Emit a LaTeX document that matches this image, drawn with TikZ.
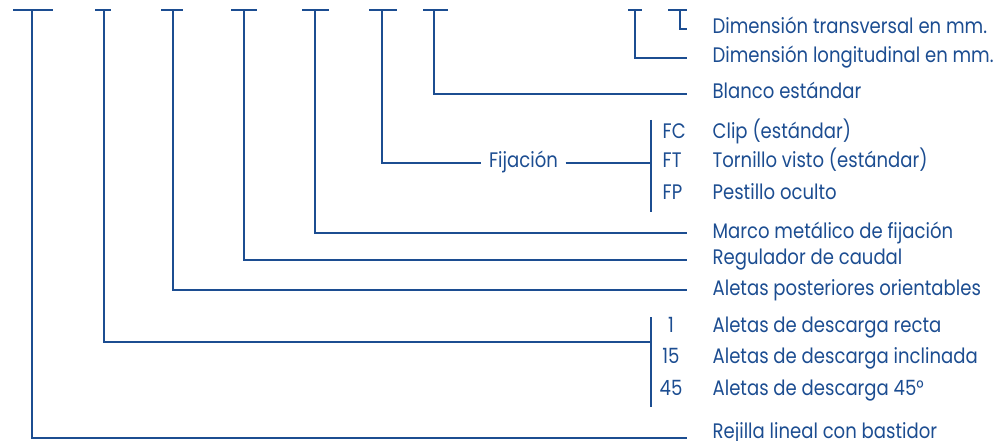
\documentclass[tikz,border=0pt]{standalone}
\usepackage{fontspec}
\setmainfont{Poppins}[FakeStretch=0.86]
\definecolor{azul}{RGB}{28,77,145}

\begin{document}
\begin{tikzpicture}[
  x=1pt, y=-1pt,
  color=azul,
  line width=1.3pt,
  font=\fontsize{21}{25}\selectfont,
  lbl/.style={anchor=west, inner sep=0pt, text height=10pt, text depth=0pt},
  num/.style={lbl, anchor=center},
  link/.style={shorten >=25pt}
]
\useasboundingbox (0,0) rectangle (997,441);

% ── Stems (top of each column) ───────────────────────────
\coordinate (st1) at (32,10);
\coordinate (st2) at (104,10);
\coordinate (st3) at (173,10);
\coordinate (st4) at (244,10);
\coordinate (st5) at (315,10);
\coordinate (st6) at (382,10);
\coordinate (st7) at (434,10);
\coordinate (st8) at (635,10);
\coordinate (st9) at (680,10);

\foreach \l/\r in {13/53, 95/111, 161/183, 231/257, 302/329,
                   369/397, 423/448, 628/642, 668/687}
  \draw (\l,10) -- (\r,10);

% ── Labels ───────────────────────────────────────────────
\node[lbl] (trans)  at (712,29)    {Dimensión transversal en mm.};
\node[lbl] (longi)  at (712,58)    {Dimensión longitudinal en mm.};
\node[lbl] (blanco) at (712,94)    {Blanco estándar};
\node[lbl] (clip)   at (712,134)   {Clip (estándar)};
\node[lbl] (torn)   at (712,163)   {Tornillo visto (estándar)};
\node[lbl] (pest)   at (712,195)   {Pestillo oculto};
\node[lbl] (marco)  at (712,233)   {Marco metálico de fijación};
\node[lbl] (regul)  at (712,260)   {Regulador de caudal};
\node[lbl] (aletp)  at (712,290)   {Aletas posteriores orientables};
\node[lbl] (recta)  at (712,327.5) {Aletas de descarga recta};
\node[lbl] (incl)   at (712,358.5) {Aletas de descarga inclinada};
\node[lbl] (a45)    at (712,390)   {Aletas de descarga 45°};
\node[lbl] (rej)    at (712,433.5) {Rejilla lineal con bastidor};

% ── Codes ────────────────────────────────────────────────
\node[lbl] (fc) at (662,134) {FC};
\node[lbl] (ft) at (662,163) {FT};
\node[lbl] (fp) at (662,195) {FP};

\node[num] (n1)  at (671,327.5) {1};
\node[num] (n15) at (671,358.5) {15};
\node[num] (n45) at (671,390)   {45};

% ── Fijación branch ──────────────────────────────────────
\node[lbl, anchor=center, inner xsep=7pt] (fij) at (523.5,163) {Fijación};
\coordinate (brAtop) at (651,120);
\coordinate (brAbot) at (651,212);
\draw (brAtop) -- (brAbot);

% ── Aletas bracket ───────────────────────────────────────
\coordinate (brBtop)  at (651,317);
\coordinate (brBbot)  at (651,407);
\coordinate (brBjoin) at (651,342);
\draw (brBtop) -- (brBbot);

% ── Connectors ───────────────────────────────────────────
\draw (st9) |- (680,29) -- (687,29);
\draw[link] (st8) |- (longi.west);
\draw[link] (st7) |- (blanco.west);
\draw (st6) |- (fij.west);
\draw (fij.east) -- (fij.east -| brAtop);
\draw[link] (st5) |- (marco.west);
\draw[link] (st4) |- (regul.west);
\draw[link] (st3) |- (aletp.west);
\draw (st2) |- (brBjoin);
\draw[link] (st1) |- ([yshift=-4.5pt]rej.west);

\end{tikzpicture}
\end{document}
